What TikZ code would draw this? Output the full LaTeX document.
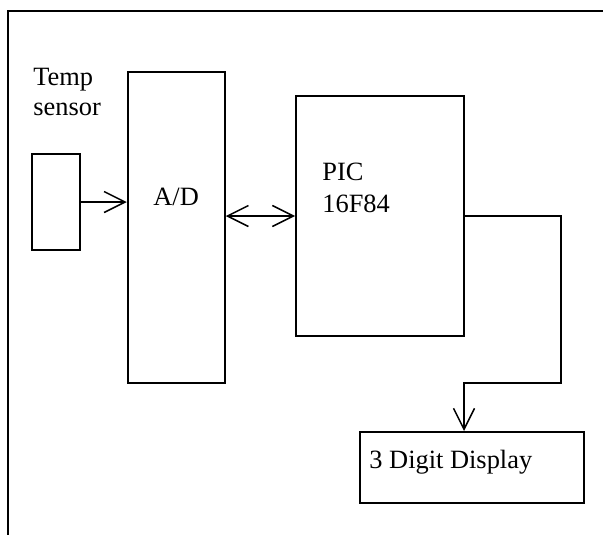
\documentclass[tikz,border=0pt]{standalone}
\usepackage{fontspec}
\setmainfont{Liberation Serif}
\usetikzlibrary{arrows.meta}
\begin{document}
\begin{tikzpicture}[x=0.5pt,y=-0.5pt,
  blockbox/.style={draw,line width=1pt,inner sep=0,minimum width=#1},
  conn/.style={line width=0.75pt},
  barb/.style={-{Straight Barb[length=10.5pt,width=10.5pt,line width=0.75pt]}},
  dbarb/.style={{Straight Barb[length=10.5pt,width=10.5pt,line width=0.75pt]}-{Straight Barb[length=10.5pt,width=10.5pt,line width=0.75pt]}},
  lbl/.style={anchor=base west,inner sep=0,font=\fontsize{13.2pt}{16pt}\selectfont}]
\useasboundingbox (0,0) rectangle (603,535);
% outer frame
\coordinate (fa) at (603,11);
\coordinate (fb) at (8,11);
\coordinate (fc) at (8,535);
\draw[line width=1pt] (fa) -- (fb) -- (fc);
% boxes
\node[draw,line width=1pt,inner sep=0,minimum width=24pt,minimum height=48pt] (sensor) at (56,202) {};
\node[draw,line width=1pt,inner sep=0,minimum width=48.5pt,minimum height=155.5pt] (ad) at (176.25,227.5) {};
\node[draw,line width=1pt,inner sep=0,minimum width=84pt,minimum height=120pt] (pic) at (380,216) {};
\node[draw,line width=1pt,inner sep=0,minimum width=112pt,minimum height=35.5pt] (disp) at (472,467.5) {};
% texts
\node[lbl] (t1) at (33,85) {Temp};
\node[lbl] (t2) at (33,115) {sensor};
\node[lbl] (t3) at (153,205) {A/D};
\node[lbl] (t4) at (322,180) {PIC};
\node[lbl] (t5) at (322,212) {16F84};
\node[lbl] (t6) at (369,468) {3 Digit Display};
% connectors
\coordinate (ylink) at (0,216);
\coordinate (w1) at (561,216);
\coordinate (w2) at (561,383);
\coordinate (w3) at (464,383);
\draw[conn,barb] (sensor.east) -- (ad.west |- sensor.east);
\draw[conn,dbarb] (ad.east |- ylink) -- (pic.west |- ylink);
\draw[conn,barb] (pic.east |- ylink) -- (w1) -- (w2) -- (w3) -- (disp.north -| w3);
\end{tikzpicture}
\end{document}
